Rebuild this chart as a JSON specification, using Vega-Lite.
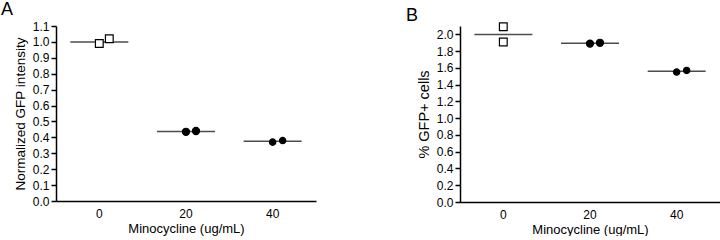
{
  "$schema": "https://vega.github.io/schema/vega-lite/v6.json",
  "padding": {"left": 1, "top": 1, "right": 0, "bottom": 0},
  "background": "white",
  "spacing": 90,
  "config": {
    "font": "Liberation Sans",
    "view": {"stroke": null},
    "axis": {"domainColor": "black", "domainWidth": 1.5, "tickColor": "black", "tickWidth": 1.5, "labelColor": "black", "titleColor": "black", "labelFont": "Liberation Sans", "titleFont": "Liberation Sans", "labelFontSize": 12, "titleFontSize": 13, "titleFontWeight": "normal", "grid": false, "labelOverlap": false},
    "title": {"font": "Liberation Sans", "fontSize": 18, "fontWeight": "normal", "anchor": "start", "frame": "group", "color": "black"}
  },
  "datasets": {
    "a": [
      {"dose": "0", "slot": 0, "value": 0.99},
      {"dose": "0", "slot": 1, "value": 1.02},
      {"dose": "20", "slot": 0, "value": 0.435},
      {"dose": "20", "slot": 1, "value": 0.44},
      {"dose": "40", "slot": 0, "value": 0.37},
      {"dose": "40", "slot": 1, "value": 0.38}
    ],
    "amean": [
      {"dose": "0", "value": 1.0},
      {"dose": "20", "value": 0.437},
      {"dose": "40", "value": 0.375}
    ],
    "b": [
      {"dose": "0", "slot": 0, "value": 2.09},
      {"dose": "0", "slot": 0, "value": 1.91},
      {"dose": "20", "slot": 0, "value": 1.89},
      {"dose": "20", "slot": 1, "value": 1.9},
      {"dose": "40", "slot": 0, "value": 1.55},
      {"dose": "40", "slot": 1, "value": 1.57}
    ],
    "bmean": [
      {"dose": "0", "value": 2.0},
      {"dose": "20", "value": 1.895},
      {"dose": "40", "value": 1.56}
    ]
  },
  "hconcat": [
    {
      "width": 260,
      "height": 175,
      "title": {"text": "A", "dx": -55, "offset": 1},
      "encoding": {
        "x": {"field": "dose", "type": "ordinal", "sort": ["0", "20", "40"], "scale": {"paddingInner": 0, "paddingOuter": 0}, "axis": {"title": "Minocycline (ug/mL)", "labelAngle": 0, "ticks": false, "labelPadding": 7, "titlePadding": 3}},
        "y": {"field": "value", "type": "quantitative", "scale": {"domain": [0, 1.1], "nice": false}, "axis": {"title": "Normalized GFP intensity", "titleFontSize": 13.5, "values": [0, 0.1, 0.2, 0.3, 0.4, 0.5, 0.6, 0.7, 0.8, 0.9, 1.0, 1.1], "format": ".1f", "tickSize": 5, "labelPadding": 2, "titlePadding": 5}}
      },
      "layer": [
        {
          "data": {"name": "amean"},
          "mark": {"type": "tick", "orient": "horizontal", "size": 58, "thickness": 1.5, "color": "black"}
        },
        {
          "data": {"name": "a"},
          "mark": {"type": "point", "filled": false, "strokeWidth": 1.2, "opacity": 1},
          "encoding": {
            "xOffset": {"field": "slot", "type": "ordinal", "scale": {"type": "point", "domain": [0, 1], "range": [43.3, 53.3], "padding": 0}},
            "shape": {"field": "dose", "type": "nominal", "scale": {"domain": ["0", "20", "40"], "range": ["square", "circle", "circle"]}, "legend": null},
            "fill": {"field": "dose", "type": "nominal", "scale": {"domain": ["0", "20", "40"], "range": ["white", "black", "black"]}, "legend": null},
            "stroke": {"value": "black"},
            "size": {"field": "dose", "type": "nominal", "scale": {"domain": ["0", "20", "40"], "range": [60, 40, 40]}, "legend": null}
          }
        }
      ]
    },
    {
      "width": 260,
      "height": 176,
      "title": {"text": "B", "dx": -54, "offset": -4},
      "encoding": {
        "x": {"field": "dose", "type": "ordinal", "sort": ["0", "20", "40"], "scale": {"paddingInner": 0, "paddingOuter": 0}, "axis": {"title": "Minocycline (ug/mL)", "labelAngle": 0, "ticks": false, "labelPadding": 7, "titlePadding": 3}},
        "y": {"field": "value", "type": "quantitative", "scale": {"domain": [0, 2.1], "nice": false}, "axis": {"title": "% GFP+ cells", "titleFontSize": 14.5, "values": [0, 0.2, 0.4, 0.6, 0.8, 1.0, 1.2, 1.4, 1.6, 1.8, 2.0], "format": ".1f", "tickSize": 5, "labelPadding": 2, "titlePadding": 5}}
      },
      "layer": [
        {
          "data": {"name": "bmean"},
          "mark": {"type": "tick", "orient": "horizontal", "size": 58, "thickness": 1.5, "color": "black"}
        },
        {
          "data": {"name": "b"},
          "mark": {"type": "point", "filled": false, "strokeWidth": 1.2, "opacity": 1},
          "encoding": {
            "xOffset": {"field": "slot", "type": "ordinal", "scale": {"type": "point", "domain": [0, 1], "range": [43.3, 53.3], "padding": 0}},
            "shape": {"field": "dose", "type": "nominal", "scale": {"domain": ["0", "20", "40"], "range": ["square", "circle", "circle"]}, "legend": null},
            "fill": {"field": "dose", "type": "nominal", "scale": {"domain": ["0", "20", "40"], "range": ["white", "black", "black"]}, "legend": null},
            "stroke": {"value": "black"},
            "size": {"field": "dose", "type": "nominal", "scale": {"domain": ["0", "20", "40"], "range": [60, 40, 40]}, "legend": null}
          }
        }
      ]
    }
  ],
  "resolve": {"scale": {"shape": "independent", "fill": "independent", "size": "independent"}}
}
